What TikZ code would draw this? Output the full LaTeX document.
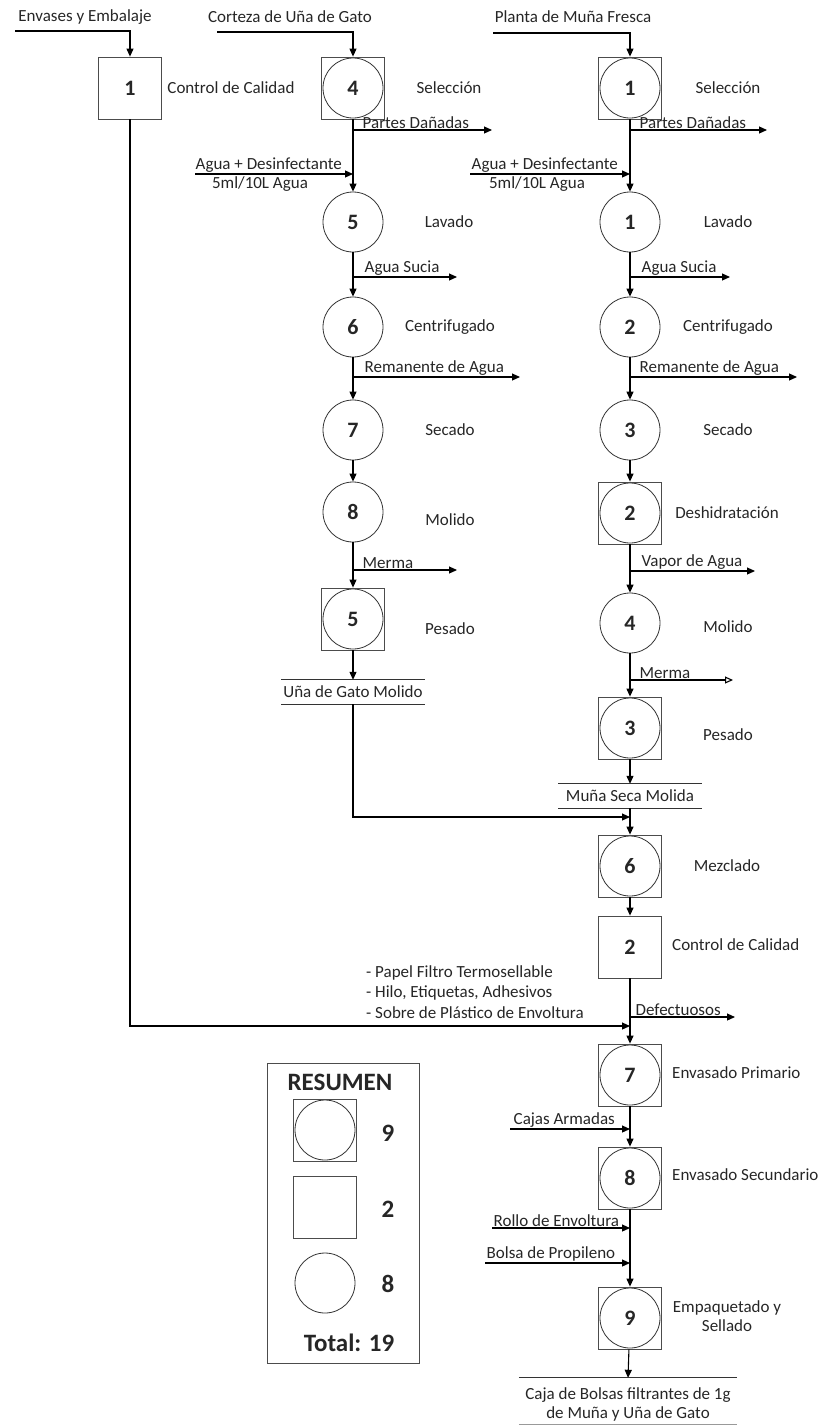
\documentclass[tikz,border=0pt]{standalone}
\usepackage{fontspec}
\setmainfont{Carlito}
\usepackage{tikz}
\usetikzlibrary{arrows.meta}

\newcommand{\opfont}{\fontsize{17}{20}\selectfont}
\newcommand{\opnum}{\fontsize{22}{24}\selectfont\bfseries}
\newcommand{\sumfont}{\fontsize{25}{28}\selectfont\bfseries}

\begin{document}
\begin{tikzpicture}[
	x=1pt, y=-1pt,
	every node/.style={font=\opfont, text=black!85},
	op/.style={
		circle, draw=black!80, line width=0.8pt,
		minimum size=60pt, inner sep=0pt, font=\opnum
	},
	insp/.style={
		rectangle, draw=black!70, line width=0.8pt,
		minimum width=63pt, minimum height=62pt, inner sep=0pt, font=\opnum
	},
	opinsp/.style={
		insp,
		path picture={\draw[black!80, line width=0.8pt] (path picture bounding box.center) circle (30pt);}
	},
	store/.style={minimum width=143pt, minimum height=24pt, inner sep=0pt},
	flow/.style={line width=1.1pt, -{Triangle[length=8pt, width=7pt]}},
	loss/.style={flow, -{Triangle[open, length=8pt, width=7pt]}},
	line/.style={line width=1.1pt, black!80},
	tag/.style={anchor=south west, inner sep=1.5pt}
	]
	\useasboundingbox (0,0) rectangle (820,1425);

	% envases
	\node at (85,17) {Envases y Embalaje};
	\coordinate (envin) at (15,31);
	\node[insp] (qc1) at (130,88) {1};
	\node at (231,88) {Control de Calidad};
	\draw[flow] (envin) -| (qc1);

	% una de gato
	\node at (290,17) {Corteza de Uña de Gato};
	\coordinate (ugin) at (217,32);
	\node[opinsp] (ugsel) at (353,88) {4};
	\node[op] (uglav) at (353,222) {5};
	\node[op] (ugcen) at (353,327) {6};
	\node[op] (ugsec) at (353,430) {7};
	\node[op] (ugmol) at (353,512) {8};
	\node[opinsp] (ugpes) at (353,619) {5};
	\node[store] (ugst) at (353,692) {Uña de Gato Molido};

	\node at (449,88) {Selección};
	\node at (449,222) {Lavado};
	\node at (450,327) {Centrifugado};
	\node at (450,430) {Secado};
	\node at (450,520) {Molido};
	\node at (450,629) {Pesado};

	\draw[flow] (ugin) -| (ugsel);
	\draw[flow] (ugsel) -- (uglav);
	\draw[flow] (uglav) -- (ugcen);
	\draw[flow] (ugcen) -- (ugsec);
	\draw[flow] (ugsec) -- (ugmol);
	\draw[flow] (ugmol) -- (ugpes);
	\draw[flow] (ugpes) -- (ugst.north);
	\draw[line] (ugst.north west) -- (ugst.north east) (ugst.south west) -- (ugst.south east);

	% salidas
	\coordinate (ugb1) at (353,130); \coordinate (ugb1x) at (492,130);
	\coordinate (ugb2) at (353,277); \coordinate (ugb2x) at (457,277);
	\coordinate (ugb3) at (353,377); \coordinate (ugb3x) at (520,377);
	\coordinate (ugb4) at (353,570); \coordinate (ugb4x) at (457,570);
	\draw[flow] (ugb1) -- (ugb1x);
	\node[tag] at (361,130) {Partes Dañadas};
	\draw[flow] (ugb2) -- (ugb2x);
	\node[tag] at (363,277) {Agua Sucia};
	\draw[flow] (ugb3) -- (ugb3x);
	\node[tag] at (363,377) {Remanente de Agua};
	\draw[flow] (ugb4) -- (ugb4x);
	\node[tag] at (361,570) {Merma};

	% agua
	\coordinate (ugw) at (195,174); \coordinate (ugwj) at (353,174);
	\draw[flow] (ugw) -- (ugwj);
	\node[tag] at (194,174) {Agua + Desinfectante};
	\node at (260,184) {5ml/10L Agua};

	% muna
	\node at (573,17) {Planta de Muña Fresca};
	\coordinate (muin) at (493,33);
	\node[opinsp] (musel) at (630,88) {1};
	\node[op] (mulav) at (630,222) {1};
	\node[op] (mucen) at (630,327) {2};
	\node[op] (musec) at (630,430) {3};
	\node[opinsp] (mudes) at (630,513) {2};
	\node[op] (mumol) at (630,623) {4};
	\node[opinsp] (mupes) at (630,728) {3};
	\node[store] (must) at (630,796) {Muña Seca Molida};
	\node[opinsp] (mumez) at (630,866) {6};
	\node[insp] (mucal) at (630,947) {2};
	\node[opinsp] (muenp) at (630,1075) {7};
	\node[opinsp] (muens) at (630,1178) {8};
	\node[opinsp] (muemp) at (630,1318) {9};
	\node[store, minimum width=218pt, minimum height=46pt] (fin) at (628,1401) {};
	\node[align=center, font=\fontsize{17}{19}\selectfont] at (628,1404) {Caja de Bolsas filtrantes de 1g\\de Muña y Uña de Gato};

	\node at (728,88) {Selección};
	\node at (728,222) {Lavado};
	\node at (728,327) {Centrifugado};
	\node at (728,430) {Secado};
	\node at (727,513) {Deshidratación};
	\node at (728,627) {Molido};
	\node at (728,735) {Pesado};
	\node at (727,866) {Mezclado};
	\node[anchor=west, inner sep=0pt] at (672,945) {Control de Calidad};
	\node[anchor=west, inner sep=0pt] at (672,1073) {Envasado Primario};
	\node[anchor=west, inner sep=0pt] at (672,1175) {Envasado Secundario};
	\node[align=center, font=\fontsize{17}{19}\selectfont] at (727,1316) {Empaquetado y\\Sellado};

	\draw[flow] (muin) -| (musel);
	\draw[flow] (musel) -- (mulav);
	\draw[flow] (mulav) -- (mucen);
	\draw[flow] (mucen) -- (musec);
	\draw[flow] (musec) -- (mudes);
	\draw[flow] (mudes) -- (mumol);
	\draw[flow] (mumol) -- (mupes);
	\draw[flow] (mupes) -- (must.north);
	\draw[line] (must.north west) -- (must.north east) (must.south west) -- (must.south east);
	\draw[flow] (must.south) -- (mumez);
	\draw[flow] (mumez) -- (mucal);
	\draw[flow] (mucal) -- (muenp);
	\draw[flow] (muenp) -- (muens);
	\draw[flow] (muens) -- (muemp);
	\draw[flow] (muemp) -- (fin.north);
	\draw[line] (fin.north west) -- (fin.north east);
	\draw[line, black!40] (fin.south west) -- (fin.south east);

	% salidas
	\coordinate (mub1) at (630,130); \coordinate (mub1x) at (767,130);
	\coordinate (mub2) at (630,277); \coordinate (mub2x) at (730,277);
	\coordinate (mub3) at (630,377); \coordinate (mub3x) at (797,377);
	\coordinate (mub4) at (630,571); \coordinate (mub4x) at (755,571);
	\coordinate (mub5) at (630,680); \coordinate (mub5x) at (733,680);
	\coordinate (mub6) at (630,1017); \coordinate (mub6x) at (735,1017);
	\draw[flow] (mub1) -- (mub1x);
	\node[tag] at (638,130) {Partes Dañadas};
	\draw[flow] (mub2) -- (mub2x);
	\node[tag] at (640,277) {Agua Sucia};
	\draw[flow] (mub3) -- (mub3x);
	\node[tag] at (638,377) {Remanente de Agua};
	\draw[flow] (mub4) -- (mub4x);
	\node[tag] at (640,571) {Vapor de Agua};
	\draw[loss] (mub5) -- (mub5x);
	\node[tag] at (638,680) {Merma};
	\draw[flow] (mub6) -- (mub6x);
	\node[tag] at (634,1017) {Defectuosos};

	% entradas
	\coordinate (muw) at (470,174); \coordinate (muwj) at (630,174);
	\draw[flow] (muw) -- (muwj);
	\node[tag] at (470,174) {Agua + Desinfectante};
	\node at (537,184) {5ml/10L Agua};

	\coordinate (j1) at (630,817);
	\draw[flow] (ugst.south) |- (j1);
	\coordinate (j3) at (630,1026);
	\draw[flow] (qc1) |- (j3);
	\node[anchor=west, align=left, inner sep=0pt, font=\fontsize{17}{20.5}\selectfont] at (366,992)
		{- Papel Filtro Termosellable\\- Hilo, Etiquetas, Adhesivos\\- Sobre de Plástico de Envoltura};

	\coordinate (caj) at (510,1129); \coordinate (cajj) at (630,1129);
	\draw[flow] (caj) -- (cajj);
	\node[tag] at (512,1129) {Cajas Armadas};
	\coordinate (rol) at (492,1228); \coordinate (rolj) at (630,1228);
	\draw[flow] (rol) -- (rolj);
	\node[tag] at (492,1228) {Rollo de Envoltura};
	\coordinate (bol) at (485,1263); \coordinate (bolj) at (630,1263);
	\draw[flow] (bol) -- (bolj);
	\node[tag] at (485,1263) {Bolsa de Propileno};

	% resumen
	\draw[black!70, line width=0.9pt] (267,1063) rectangle (419,1363);
	\node[font=\sumfont] (sumtit) at (340,1082) {RESUMEN};
	\node[opinsp, font=\sumfont] (sumopinsp) at (325,1130) {};
	\node[font=\sumfont] at (388,1133) {9};
	\node[insp] (suminsp) at (325,1207) {};
	\node[font=\sumfont] at (388,1209) {2};
	\node[op] (sumop) at (325,1283) {};
	\node[font=\sumfont] at (388,1284) {8};
	\node[font=\sumfont] (sumtot) at (349,1343) {Total: 19};
\end{tikzpicture}
\end{document}
